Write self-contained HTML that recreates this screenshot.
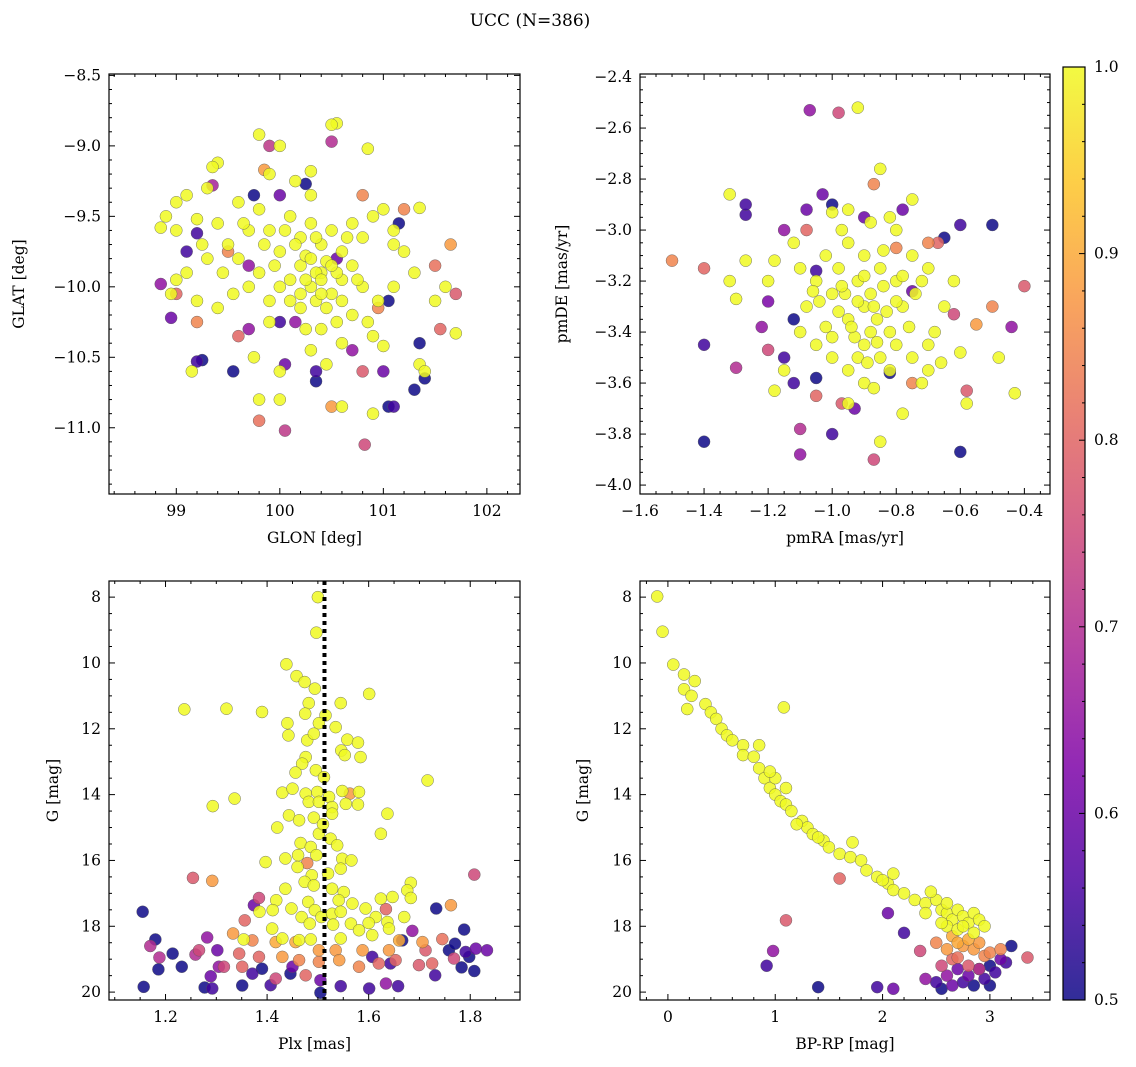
<!DOCTYPE html>
<html><head><meta charset="utf-8">
<style>
html,body{margin:0;padding:0;background:#fff;}
svg{display:block;font-family:"DejaVu Serif","Liberation Serif",serif;}
</style></head>
<body>
<svg id="fig" width="1136" height="1067" viewBox="0 0 1136 1067">
<text x="530" y="26" font-size="17" text-anchor="middle">UCC (N=386)</text>
</svg>
<script>
// ---- Panel 1: GLON vs GLAT ----
const p1Yellow = [[99.8,-8.92],[100.0,-9.0],[100.55,-8.84],[100.5,-8.85],[100.3,-9.18],[100.85,-9.02],[99.4,-9.12],[99.35,-9.15],[99.1,-9.35],[99.3,-9.3],[98.9,-9.5],[98.85,-9.58],[99.0,-9.4],[99.2,-9.52],[99.4,-9.55],[99.6,-9.4],[99.8,-9.45],[99.9,-9.6],[100.1,-9.5],[100.2,-9.65],[100.3,-9.55],[100.4,-9.7],[100.5,-9.6],[100.6,-9.75],[100.7,-9.55],[100.8,-9.65],[100.9,-9.5],[101.0,-9.45],[101.1,-9.6],[101.2,-9.75],[101.35,-9.44],[101.3,-9.9],[101.1,-10.0],[100.95,-10.1],[100.8,-10.0],[100.7,-10.2],[100.6,-9.95],[100.5,-10.05],[100.4,-9.9],[100.3,-10.0],[100.2,-9.85],[100.1,-9.95],[100.0,-10.0],[99.9,-10.1],[99.8,-9.9],[99.7,-10.0],[99.6,-9.8],[99.5,-9.7],[99.3,-9.8],[99.1,-9.9],[99.0,-9.95],[98.95,-10.05],[99.2,-10.1],[99.4,-10.15],[99.9,-10.25],[100.2,-10.15],[100.4,-10.3],[100.6,-10.4],[100.9,-10.35],[101.0,-10.42],[100.3,-10.45],[100.45,-10.55],[100.0,-10.6],[99.75,-10.5],[99.15,-10.6],[99.8,-10.8],[100.0,-10.8],[100.9,-10.9],[101.35,-10.55],[101.4,-10.6],[101.7,-10.33],[101.5,-10.1],[101.6,-10.0],[100.6,-10.85],[100.3,-9.35],[100.15,-9.25],[99.9,-9.2],[101.1,-9.7],[100.35,-10.1],[100.25,-9.78],[100.45,-9.82],[100.55,-9.9],[100.15,-9.7],[100.0,-9.75],[100.35,-9.9],[100.25,-9.95],[100.4,-10.05],[100.1,-10.1],[99.7,-9.6],[99.55,-10.05],[100.3,-9.8],[100.4,-9.95],[100.5,-9.85],[100.2,-10.05],[100.45,-10.15],[100.6,-10.1],[100.7,-9.85],[99.95,-9.85],[100.05,-9.6],[100.65,-9.65],[99.85,-9.7],[100.35,-9.65],[100.55,-10.25],[100.25,-10.3],[99.45,-9.9],[99.65,-9.55],[100.75,-9.95],[100.85,-10.25],[99.25,-9.7],[99.0,-9.6]];
const p1Other = [[99.85,-9.17,0.88],[101.2,-9.45,0.85],[100.8,-9.35,0.85],[101.5,-9.85,0.82],[101.65,-9.7,0.88],[101.7,-10.05,0.78],[100.95,-10.15,0.85],[99.5,-9.75,0.85],[99.2,-10.25,0.85],[99.8,-10.95,0.82],[100.5,-10.85,0.88],[100.82,-11.12,0.75],[100.05,-11.02,0.72],[99.0,-10.05,0.8],[99.6,-10.35,0.8],[100.8,-10.6,0.78],[101.55,-10.3,0.8],[100.5,-8.97,0.7],[99.9,-9.0,0.72],[99.35,-9.28,0.68],[100.0,-9.35,0.6],[100.25,-9.27,0.5],[99.75,-9.35,0.5],[99.2,-9.62,0.55],[99.1,-9.75,0.55],[98.85,-9.98,0.65],[98.95,-10.22,0.6],[99.25,-10.52,0.5],[99.2,-10.53,0.55],[99.55,-10.6,0.5],[100.0,-10.25,0.55],[100.05,-10.55,0.6],[100.35,-10.6,0.55],[100.35,-10.67,0.5],[99.7,-10.3,0.65],[101.0,-10.6,0.6],[101.05,-10.85,0.5],[101.1,-10.85,0.55],[101.3,-10.73,0.5],[101.4,-10.65,0.5],[101.35,-10.4,0.5],[101.05,-10.1,0.5],[101.15,-9.55,0.5],[100.55,-9.8,0.6],[100.7,-10.45,0.65],[100.15,-10.25,0.65],[99.7,-9.85,0.65]];
// ---- Panel 2: pmRA vs pmDE ----
const p2Yellow = [[-0.92,-2.52],[-0.85,-2.76],[-1.32,-2.86],[-1.18,-3.12],[-1.27,-3.12],[-1.3,-3.27],[-1.32,-3.2],[-1.1,-3.15],[-1.0,-2.93],[-0.95,-2.92],[-0.88,-2.97],[-0.8,-3.0],[-0.75,-3.1],[-0.7,-3.15],[-0.72,-3.2],[-0.78,-3.3],[-0.82,-3.4],[-0.85,-3.5],[-0.9,-3.45],[-0.95,-3.35],[-1.0,-3.25],[-1.05,-3.2],[-1.02,-3.1],[-0.95,-3.05],[-0.9,-3.1],[-0.85,-3.15],[-0.8,-3.2],[-0.88,-3.25],[-0.92,-3.2],[-0.98,-3.15],[-1.08,-3.3],[-1.1,-3.4],[-1.05,-3.45],[-1.0,-3.5],[-0.95,-3.55],[-0.9,-3.6],[-0.87,-3.62],[-0.82,-3.55],[-0.75,-3.5],[-0.7,-3.45],[-0.65,-3.3],[-0.62,-3.2],[-0.68,-3.4],[-0.72,-3.6],[-0.78,-3.72],[-0.85,-3.83],[-0.95,-3.68],[-1.18,-3.63],[-1.15,-3.55],[-0.6,-3.48],[-0.48,-3.5],[-0.43,-3.64],[-0.58,-3.68],[-0.75,-2.88],[-0.82,-2.95],[-0.97,-3.0],[-1.12,-3.05],[-1.2,-3.2],[-0.7,-3.55],[-0.66,-3.52],[-1.02,-3.38],[-0.93,-3.42],[-0.86,-3.35],[-0.8,-3.28],[-0.9,-3.3],[-0.96,-3.25],[-0.84,-3.22],[-1.04,-3.28],[-0.88,-3.4],[-0.76,-3.38],[-0.92,-3.28],[-0.87,-3.3],[-0.83,-3.32],[-0.97,-3.22],[-0.9,-3.18],[-0.94,-3.38],[-0.86,-3.44],[-0.8,-3.45],[-1.0,-3.42],[-0.92,-3.5],[-0.78,-3.18],[-0.74,-3.25],[-1.06,-3.24],[-0.98,-3.32],[-0.84,-3.08],[-0.89,-3.52]];
const p2Other = [[-1.5,-3.12,0.85],[-1.4,-3.15,0.8],[-0.98,-2.54,0.75],[-0.87,-2.82,0.85],[-1.08,-3.0,0.8],[-0.7,-3.05,0.85],[-0.67,-3.05,0.8],[-0.5,-3.3,0.85],[-0.55,-3.37,0.88],[-0.4,-3.22,0.78],[-0.58,-3.63,0.78],[-0.87,-3.9,0.75],[-0.97,-3.68,0.78],[-1.05,-3.65,0.8],[-1.2,-3.47,0.75],[-0.62,-3.33,0.75],[-0.75,-3.6,0.85],[-0.8,-3.07,0.85],[-1.07,-2.53,0.65],[-1.4,-3.45,0.55],[-1.4,-3.83,0.5],[-1.27,-2.94,0.55],[-1.27,-2.9,0.55],[-1.08,-2.92,0.6],[-1.03,-2.86,0.6],[-1.0,-2.9,0.5],[-0.9,-2.95,0.6],[-0.78,-2.92,0.6],[-0.6,-2.98,0.55],[-0.5,-2.98,0.5],[-1.2,-3.28,0.62],[-1.22,-3.38,0.65],[-1.3,-3.54,0.7],[-1.12,-3.35,0.5],[-1.15,-3.5,0.55],[-1.12,-3.6,0.55],[-1.05,-3.58,0.5],[-1.0,-3.8,0.55],[-1.1,-3.88,0.65],[-1.1,-3.78,0.7],[-0.93,-3.7,0.6],[-0.75,-3.24,0.6],[-0.6,-3.87,0.5],[-0.44,-3.38,0.65],[-0.82,-3.56,0.5],[-0.65,-3.03,0.5],[-1.05,-3.16,0.55],[-1.15,-3.0,0.65]];
// ---- Panel 3: Plx vs G ----
const p3Yellow = [[1.500,8.0],[1.497,9.08],[1.438,10.04],[1.458,10.4],[1.474,10.58],[1.494,10.78],[1.601,10.94],[1.237,11.41],[1.320,11.39],[1.390,11.49],[1.482,11.22],[1.545,11.22],[1.475,11.54],[1.515,11.59],[1.440,11.83],[1.502,11.83],[1.535,11.95],[1.442,12.2],[1.479,12.35],[1.492,12.15],[1.558,12.33],[1.579,12.42],[1.546,12.66],[1.553,12.8],[1.584,12.86],[1.476,12.86],[1.469,13.06],[1.456,13.33],[1.496,13.26],[1.512,13.47],[1.716,13.57],[1.430,13.94],[1.450,13.82],[1.476,13.97],[1.499,13.92],[1.522,14.07],[1.548,13.89],[1.581,13.92],[1.482,14.22],[1.502,14.22],[1.528,14.38],[1.555,14.28],[1.579,14.3],[1.293,14.35],[1.336,14.12],[1.443,14.63],[1.463,14.78],[1.492,14.7],[1.528,14.58],[1.637,14.58],[1.624,15.19],[1.420,15.0],[1.502,15.19],[1.525,15.34],[1.538,15.54],[1.466,15.47],[1.486,15.59],[1.461,15.84],[1.497,15.84],[1.436,15.94],[1.397,16.05],[1.548,15.95],[1.566,16.0],[1.545,16.25],[1.488,16.45],[1.474,16.65],[1.492,16.76],[1.436,16.86],[1.683,16.68],[1.676,16.91],[1.647,17.11],[1.624,17.16],[1.683,17.14],[1.528,16.86],[1.551,16.96],[1.541,17.21],[1.568,17.31],[1.594,17.46],[1.614,17.72],[1.637,17.87],[1.670,17.72],[1.418,17.21],[1.411,17.51],[1.385,17.56],[1.448,17.46],[1.481,17.26],[1.494,17.51],[1.468,17.72],[1.484,17.92],[1.507,17.72],[1.528,17.62],[1.545,17.56],[1.565,17.92],[1.581,18.12],[1.607,18.27],[1.640,18.07],[1.410,18.07],[1.430,18.37],[1.463,18.42],[1.486,18.4],[1.545,18.37],[1.354,18.4],[1.51,14.9],[1.52,16.4],[1.46,16.2],[1.53,17.95],[1.6,17.9]];
const p3Other = [[1.254,16.53,0.78],[1.292,16.62,0.88],[1.808,16.43,0.75],[1.762,17.36,0.88],[1.384,17.14,0.75],[1.356,17.82,0.8],[1.479,16.08,0.85],[1.563,13.97,0.88],[1.634,17.48,0.8],[1.745,18.39,0.82],[1.333,18.22,0.88],[1.371,18.43,0.85],[1.417,18.48,0.9],[1.456,18.48,0.9],[1.502,18.73,0.88],[1.535,18.73,0.88],[1.588,18.73,0.88],[1.640,18.73,0.88],[1.660,18.43,0.9],[1.706,18.48,0.88],[1.345,18.83,0.8],[1.384,18.93,0.8],[1.430,18.93,0.88],[1.463,19.03,0.85],[1.502,19.08,0.85],[1.542,19.03,0.88],[1.581,19.23,0.85],[1.620,19.13,0.8],[1.653,19.03,0.8],[1.699,19.18,0.78],[1.712,18.73,0.78],[1.266,18.73,0.75],[1.315,19.23,0.75],[1.417,19.59,0.75],[1.476,19.49,0.8],[1.725,19.13,0.8],[1.768,18.98,0.75],[1.351,19.23,0.8],[1.155,17.56,0.5],[1.180,18.4,0.5],[1.170,18.6,0.7],[1.188,18.95,0.7],[1.186,19.31,0.5],[1.214,18.83,0.5],[1.232,19.23,0.5],[1.157,19.84,0.5],[1.277,19.86,0.5],[1.292,19.89,0.55],[1.289,19.52,0.6],[1.259,18.86,0.7],[1.282,18.34,0.65],[1.302,18.73,0.6],[1.351,19.8,0.5],[1.371,19.44,0.55],[1.390,19.29,0.5],[1.407,19.79,0.55],[1.374,17.36,0.6],[1.446,19.44,0.5],[1.505,19.64,0.6],[1.505,20.02,0.5],[1.545,19.82,0.55],[1.601,19.89,0.55],[1.634,19.74,0.65],[1.658,19.82,0.55],[1.643,19.13,0.55],[1.686,18.14,0.65],[1.731,19.49,0.55],[1.733,17.46,0.5],[1.758,18.73,0.5],[1.770,18.53,0.5],[1.788,18.1,0.5],[1.783,19.25,0.5],[1.808,19.36,0.5],[1.811,18.68,0.6],[1.833,18.73,0.6],[1.791,18.78,0.55],[1.798,18.93,0.5],[1.666,18.43,0.5],[1.607,18.93,0.55],[1.45,19.23,0.6],[1.305,19.23,0.65]];
const plxLine = 1.513;
// ---- Panel 4: BP-RP vs G ----
const p4Yellow = [[-0.1,7.98],[-0.05,9.05],[0.05,10.05],[0.15,10.35],[0.25,10.55],[0.15,10.8],[0.22,11.0],[0.18,11.4],[0.35,11.25],[0.4,11.5],[0.45,11.7],[0.5,12.0],[0.55,12.2],[0.6,12.35],[0.7,12.5],[0.7,12.8],[0.8,12.85],[0.85,13.2],[0.9,13.5],[0.95,13.8],[1.0,14.0],[1.05,14.2],[1.1,14.3],[1.15,14.5],[1.25,14.8],[1.3,15.0],[1.35,15.2],[1.45,15.4],[1.5,15.6],[1.6,15.8],[1.7,15.9],[1.8,16.0],[1.85,16.3],[1.95,16.5],[2.05,16.7],[2.1,16.9],[2.2,17.0],[2.3,17.2],[2.4,17.3],[2.5,17.2],[2.55,17.5],[2.6,17.6],[2.65,17.8],[2.7,17.5],[2.75,17.7],[2.8,17.9],[2.85,17.6],[2.9,17.8],[2.95,18.0],[2.6,18.0],[2.7,18.1],[1.08,11.35],[1.0,13.5],[1.1,13.8],[0.85,12.5],[2.45,16.95],[2.1,16.4],[2.4,17.6],[2.85,18.2],[2.55,17.9],[1.72,15.45],[1.2,14.9],[2.6,17.3],[0.95,13.3],[1.4,15.3],[2.0,16.6],[2.75,18.0]];
const p4Other = [[1.6,16.55,0.8],[1.1,17.82,0.78],[2.65,18.3,0.9],[2.7,18.5,0.9],[2.75,18.6,0.88],[2.8,18.4,0.9],[2.85,18.7,0.88],[2.9,18.5,0.88],[2.95,18.9,0.85],[3.0,18.8,0.85],[2.6,18.7,0.88],[2.65,19.0,0.8],[2.7,18.95,0.82],[2.35,18.75,0.75],[2.55,19.2,0.75],[2.8,19.2,0.78],[2.9,19.3,0.72],[3.35,18.95,0.78],[3.1,18.7,0.85],[2.5,18.5,0.85],[0.92,19.2,0.55],[0.98,18.75,0.65],[1.4,19.85,0.5],[1.95,19.85,0.55],[2.1,19.9,0.6],[2.05,17.6,0.6],[2.2,18.2,0.55],[2.5,19.7,0.55],[2.55,19.9,0.5],[2.6,19.5,0.65],[2.7,19.3,0.6],[2.75,19.7,0.55],[2.8,19.5,0.6],[2.85,19.8,0.5],[2.9,19.3,0.55],[2.95,19.6,0.55],[3.0,19.2,0.5],[3.05,19.4,0.55],[3.1,19.0,0.6],[3.2,18.6,0.5],[3.15,19.1,0.55],[3.0,19.8,0.5],[2.65,19.8,0.6],[2.4,19.6,0.65]];
const cbTicks = [0.5,0.6,0.7,0.8,0.9,1.0];

const NS="http://www.w3.org/2000/svg";
const svg=document.getElementById('fig');
function mk(tag,attrs,parent){const e=document.createElementNS(NS,tag);for(const k in attrs)e.setAttribute(k,attrs[k]);(parent||svg).appendChild(e);return e;}
const stops=[[0,[13,8,135]],[.125,[76,2,161]],[.25,[126,3,168]],[.375,[169,35,149]],[.5,[204,71,120]],[.625,[229,107,93]],[.75,[248,149,64]],[.875,[253,197,39]],[1,[240,249,33]]];
function plasma(p){let t=(p-0.5)/0.5;t=Math.max(0,Math.min(1,t));for(let i=1;i<stops.length;i++){if(t<=stops[i][0]){const a=stops[i-1],b=stops[i];const f=(t-a[0])/(b[0]-a[0]);const c=a[1].map((v,j)=>Math.round(v+(b[1][j]-v)*f));return `rgb(${c[0]},${c[1]},${c[2]})`;}}return 'rgb(240,249,33)';}
function fmt(v,d){let s=v.toFixed(d);return s.replace('-','\u2212');}

function panel(cfg){
  const {x0,y0,x1,y1,xmin,xmax,ymin,ymax,invY}=cfg;
  const sx=v=>x0+(v-xmin)/(xmax-xmin)*(x1-x0);
  const sy=v=>invY? y0+(v-ymin)/(ymax-ymin)*(y1-y0) : y1-(v-ymin)/(ymax-ymin)*(y1-y0);
  const g=mk('g',{});
  
  
  const pts=cfg.yellow.map(d=>[d[0],d[1],1.0]).concat(cfg.other).sort((a,b)=>a[2]-b[2]);
  const pg=mk('g',{},g);
  pts.forEach(d=>{
    const c=mk('circle',{cx:sx(d[0]),cy:sy(d[1]),r:6,fill:plasma(d[2]),'fill-opacity':0.85,stroke:'#555','stroke-width':0.4},pg);
    
    
  });
  if(cfg.vline!==undefined){
    const l=mk('line',{x1:sx(cfg.vline),x2:sx(cfg.vline),y1:y0,y2:y1,stroke:'#000','stroke-width':4,'stroke-dasharray':'4,4'},g);
    
    
  }
  mk('rect',{x:x0,y:y0,width:x1-x0,height:y1-y0,fill:'none',stroke:'#000','stroke-width':1.2},g);
  const eps=1e-9;
  for(let v=Math.ceil(xmin/cfg.xminor-eps)*cfg.xminor;v<=xmax+eps;v+=cfg.xminor){
    const X=sx(v);const major=Math.abs(v/cfg.xmajor-Math.round(v/cfg.xmajor))<1e-6;const L=major?6:3;
    mk('line',{x1:X,x2:X,y1:y1,y2:y1-L,stroke:'#000','stroke-width':1},g);
    mk('line',{x1:X,x2:X,y1:y0,y2:y0+L,stroke:'#000','stroke-width':1},g);
    if(major){const t=mk('text',{x:X,y:y1+22,'font-size':15.5,'text-anchor':'middle'},g);t.textContent=fmt(Math.round(v/cfg.xmajor)*cfg.xmajor,cfg.xd);
      
      }
  }
  for(let v=Math.ceil(ymin/cfg.yminor-eps)*cfg.yminor;v<=ymax+eps;v+=cfg.yminor){
    const Y=sy(v);const major=Math.abs(v/cfg.ymajor-Math.round(v/cfg.ymajor))<1e-6;const L=major?6:3;
    mk('line',{x1:x0,x2:x0+L,y1:Y,y2:Y,stroke:'#000','stroke-width':1},g);
    mk('line',{x1:x1,x2:x1-L,y1:Y,y2:Y,stroke:'#000','stroke-width':1},g);
    if(major){const t=mk('text',{x:x0-8,y:Y+5,'font-size':15.5,'text-anchor':'end'},g);t.textContent=fmt(Math.round(v/cfg.ymajor)*cfg.ymajor,cfg.yd);
      
      }
  }
  const xl=mk('text',{x:(x0+x1)/2,y:y1+49,'font-size':15.5,'text-anchor':'middle'},g);xl.textContent=cfg.xlabel;
  
  
  const yx=cfg.ylx;const yy=(y0+y1)/2;
  const yl=mk('text',{x:yx,y:yy,'font-size':15.5,'text-anchor':'middle',transform:`rotate(-90 ${yx} ${yy})`},g);yl.textContent=cfg.ylabel;
  
  
}
panel({name:'glon-glat-panel',x0:109,y0:74,x1:520,y1:494,xmin:98.35,xmax:102.32,ymin:-11.47,ymax:-8.49,xmajor:1,xminor:0.2,ymajor:0.5,yminor:0.1,xd:0,yd:1,xlabel:'GLON [deg]',ylabel:'GLAT [deg]',ylx:24,yellow:p1Yellow,other:p1Other});
panel({name:'pm-panel',x0:640,y0:74,x1:1050,y1:494,xmin:-1.6,xmax:-0.32,ymin:-4.035,ymax:-2.388,xmajor:0.2,xminor:0.05,ymajor:0.2,yminor:0.05,xd:1,yd:1,xlabel:'pmRA [mas/yr]',ylabel:'pmDE [mas/yr]',ylx:567,yellow:p2Yellow,other:p2Other});
panel({name:'plx-g-panel',x0:109,y0:581,x1:520,y1:1000,xmin:1.0887,xmax:1.898,ymin:7.51,ymax:20.24,invY:true,xmajor:0.2,xminor:0.05,ymajor:2,yminor:0.5,xd:1,yd:0,xlabel:'Plx [mas]',ylabel:'G [mag]',ylx:58,yellow:p3Yellow,other:p3Other,vline:plxLine});
panel({name:'cmd-panel',x0:640,y0:581,x1:1050,y1:1000,xmin:-0.26,xmax:3.56,ymin:7.51,ymax:20.24,invY:true,xmajor:1,xminor:0.2,ymajor:2,yminor:0.5,xd:0,yd:0,xlabel:'BP-RP [mag]',ylabel:'G [mag]',ylx:588,yellow:p4Yellow,other:p4Other});

(function(){
  const cx=1063,cw=22,cy0=67,cy1=1000;
  const g=mk('g',{});
  
  
  const defs=mk('defs',{},g);
  const lg=mk('linearGradient',{id:'cbg',x1:0,y1:1,x2:0,y2:0},defs);
  stops.forEach(s=>mk('stop',{offset:s[0],'stop-color':`rgb(${s[1].join(',')})`,'stop-opacity':0.85},lg));
  mk('rect',{x:cx,y:cy0,width:cw,height:cy1-cy0,fill:'url(#cbg)',stroke:'#000','stroke-width':1.2},g);
  const sy=v=>cy1-(v-0.5)/0.5*(cy1-cy0);
  for(let i=0;i<=25;i++){const v=0.5+i*0.02;const Y=sy(v);const major=i%5===0;
    mk('line',{x1:cx+cw,x2:cx+cw-(major?6:3),y1:Y,y2:Y,stroke:'#000','stroke-width':1},g);}
  cbTicks.forEach(v=>{const t=mk('text',{x:cx+cw+9,y:sy(v)+5,'font-size':15.5},g);t.textContent=v.toFixed(1);
    
    });
})();
</script>
</body></html>
